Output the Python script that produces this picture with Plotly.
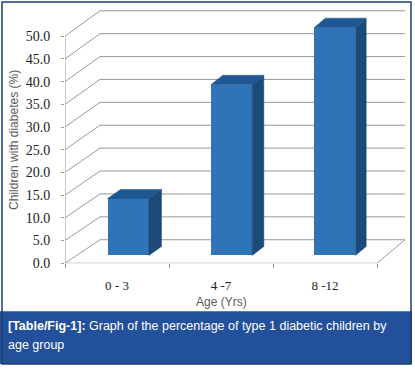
import plotly.graph_objects as go

# ---- data ----
categories = ["0 - 3", "4 -7", "8 -12"]
values = [12.5, 37.5, 50.0]
y_ticks = [0, 5, 10, 15, 20, 25, 30, 35, 40, 45, 50]
x_title = "Age (Yrs)"
y_title = "Children with diabetes (%)"
caption_bold = "[Table/Fig-1]:"
caption_rest = " Graph of the percentage of type 1 diabetic children by"
caption_line2 = "age group"

# ---- geometry / style ----
W, H = 415, 372
X0PX, SLOT, Y0PX, UNIT = 65, 104, 269, 4.64
DA = 35 / SLOT
DB = (101.67 - 104) / 104
DC = 24 / UNIT
DV = (26 - 24) / UNIT / 50
D0, D1 = 1 / 3, 0.71
HALF = 0.2

FRONT = "#2e74b7"
SIDE = "#1b4a7b"
TOP = "#1f5792"
GRID = "#9a9a9a"
TXT = "#595959"


def proj(x, v, d):
    return x + d * (DA + DB * x), v + d * (DC + DV * v)


fig = go.Figure()

shapes = []
for t in y_ticks:
    xa, ya = proj(0, t, 0)
    xb, yb = proj(0, t, 1)
    xc, yc = proj(len(categories), t, 1)
    shapes.append(dict(type="line", x0=xa, y0=ya, x1=xb, y1=yb,
                       line=dict(color=GRID, width=1), layer="below"))
    shapes.append(dict(type="line", x0=xb, y0=yb, x1=xc, y1=yc,
                       line=dict(color=GRID, width=1), layer="below"))
n = len(categories)
shapes.append(dict(type="line", x0=0, y0=0, x1=n, y1=0,
                   line=dict(color=GRID, width=1), layer="below"))
xr, yr = proj(n, 0, 1)
shapes.append(dict(type="line", x0=n, y0=0, x1=xr, y1=yr,
                   line=dict(color=GRID, width=1), layer="below"))
shapes.append(dict(type="line", x0=0, y0=0, x1=0, y1=max(y_ticks),
                   line=dict(color=GRID, width=1), layer="below"))

fx, fy, fb = [], [], []
for i, v in enumerate(values):
    c = i + 0.5
    cx, top = proj(c, v, D0)
    _, base = proj(c, 0, D0)
    fx.append(cx)
    fy.append(top - base)
    fb.append(base)
fig.add_trace(go.Bar(x=fx, y=fy, base=fb, width=2 * HALF * (1 + D0 * DB),
                     marker=dict(color=FRONT, line=dict(width=0)),
                     hoverinfo="skip", showlegend=False))

for i, v in enumerate(values):
    c = i + 0.5
    xl, xrr = c - HALF, c + HALF
    p1 = proj(xrr, 0, D0); p2 = proj(xrr, 0, D1)
    p3 = proj(xrr, v, D1); p4 = proj(xrr, v, D0)
    fig.add_trace(go.Scatter(x=[p1[0], p2[0], p3[0], p4[0], p1[0]],
                             y=[p1[1], p2[1], p3[1], p4[1], p1[1]],
                             mode="lines", fill="toself", fillcolor=SIDE,
                             line=dict(width=0.5, color=SIDE),
                             hoverinfo="skip", showlegend=False))
    q1 = proj(xl, v, D0); q2 = proj(xrr, v, D0)
    q3 = proj(xrr, v, D1); q4 = proj(xl, v, D1)
    fig.add_trace(go.Scatter(x=[q1[0], q2[0], q3[0], q4[0], q1[0]],
                             y=[q1[1], q2[1], q3[1], q4[1], q1[1]],
                             mode="lines", fill="toself", fillcolor=TOP,
                             line=dict(width=0.5, color=TOP),
                             hoverinfo="skip", showlegend=False))

shapes.append(dict(type="rect", xref="paper", yref="paper",
                   x0=0, x1=412 / W, y0=0, y1=1 - 318 / H,
                   fillcolor="#22509b", line=dict(width=0), layer="above"))
shapes.append(dict(type="rect", xref="paper", yref="paper",
                   x0=2 / W, x1=411 / W, y0=0, y1=1 - 2 / H,
                   fillcolor="rgba(0,0,0,0)",
                   line=dict(color="#213f72", width=1.5), layer="above"))

annotations = [
    dict(text=y_title, xref="paper", yref="paper", x=14 / W, y=1 - 143 / H,
         textangle=-90, showarrow=False, font=dict(family="Liberation Sans", size=12, color=TXT),
         xanchor="center", yanchor="middle"),
    dict(text=x_title, xref="paper", yref="paper", x=221 / W, y=1 - 309 / H,
         showarrow=False, font=dict(family="Liberation Sans", size=12, color=TXT),
         xanchor="center", yanchor="middle", borderpad=0),
    dict(text="<b>" + caption_bold + "</b>" + caption_rest, xref="paper", yref="paper",
         x=6 / W, y=1 - 333 / H, showarrow=False, xanchor="left", yanchor="middle",
         font=dict(family="Liberation Sans", size=12.5, color="white")),
    dict(text=caption_line2, xref="paper", yref="paper",
         x=6 / W, y=1 - 353 / H, showarrow=False, xanchor="left", yanchor="middle",
         font=dict(family="Liberation Sans", size=12.5, color="white")),
]

fig.update_layout(
    width=W, height=H, margin=dict(l=0, r=0, t=0, b=0),
    paper_bgcolor="white", plot_bgcolor="white",
    shapes=shapes, annotations=annotations, bargap=0,
    xaxis=dict(domain=[X0PX / W, 1], range=[0, (W - X0PX) / SLOT],
               tickmode="array", tickvals=[i + 0.5 for i in range(n)], ticktext=categories,
               ticks="outside", ticklen=4, tickcolor="rgba(0,0,0,0)", ticklabelstandoff=6,
               minor=dict(tickvals=list(range(n + 1)), ticks="outside", ticklen=4,
                          tickcolor=GRID, showgrid=False),
               showgrid=False, zeroline=False, showline=False, fixedrange=True,
               tickfont=dict(family="Liberation Serif", size=13, color="#222")),
    yaxis=dict(domain=[(H - Y0PX) / H, 1], range=[0, Y0PX / UNIT],
               tickmode="array", tickvals=y_ticks, tickformat=".1f",
               ticks="outside", ticklen=3, tickcolor=GRID, ticklabelstandoff=8,
               showgrid=False, zeroline=False, showline=False, fixedrange=True,
               tickfont=dict(family="Liberation Serif", size=14, color="#222")),
)

fig.write_html("out.html", config={"displayModeBar": False},
               post_script="document.body.style.margin='0';document.body.style.overflow='hidden';")
